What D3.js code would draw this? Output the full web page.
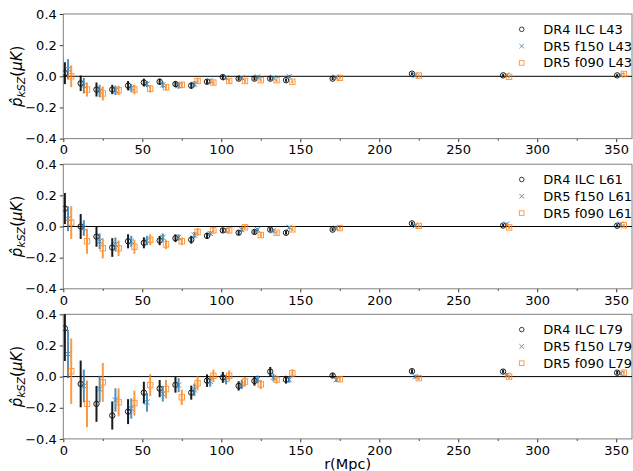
<!DOCTYPE html>
<meta charset="utf-8">
<style>
body { margin: 0; background: #fff; }
text { font-family: "DejaVu Sans", sans-serif; }
</style>
<body>
<script src="https://d3js.org/d3.v7.min.js"></script>
<script>

// bin centres for each data set (small horizontal offsets between data sets)
const rIlc  = [1, 11, 21, 31, 41, 51, 61, 71, 81, 91, 101, 111, 121, 131, 141, 170.5, 220.7, 278.4, 350.6];
const rF150 = [3, 13, 23, 33, 43, 53, 63, 73, 83, 93, 103, 113, 123, 133, 143, 172.8, 222.8, 280.6, 352.8];
const rF090 = [5, 15, 25, 35, 45, 55, 65, 75, 85, 95, 105, 115, 125, 135, 145, 175, 225, 282.2, 354.8];

// L43
const ilcL43     = [0.02, -0.045, -0.085, -0.085, -0.06, -0.04, -0.035, -0.05, -0.06, -0.035, -0.005, -0.015, -0.015, -0.015, -0.025, -0.015, 0.017, 0.006, 0.006];
const ilcL43Err  = [0.07, 0.05, 0.045, 0.03, 0.03, 0.025, 0.02, 0.02, 0.02, 0.015, 0.015, 0.012, 0.012, 0.012, 0.01, 0.01, 0.008, 0.008, 0.008];
const f150L43    = [0.045, -0.06, -0.095, -0.09, -0.075, -0.05, -0.055, -0.06, -0.05, -0.03, -0.01, -0.01, -0.005, -0.01, -0.002, -0.008, 0.005, 0.008, 0.008];
const f150L43Err = [0.065, 0.05, 0.04, 0.03, 0.025, 0.02, 0.02, 0.02, 0.02, 0.015, 0.012, 0.012, 0.012, 0.01, 0.01, 0.008, 0.008, 0.008, 0.008];
const f090L43    = [0.0, -0.085, -0.11, -0.09, -0.085, -0.08, -0.07, -0.055, -0.03, -0.04, -0.03, -0.03, -0.025, -0.025, -0.035, -0.01, 0.005, -0.003, 0.015];
const f090L43Err = [0.07, 0.045, 0.045, 0.03, 0.03, 0.025, 0.02, 0.02, 0.02, 0.015, 0.015, 0.012, 0.012, 0.012, 0.01, 0.01, 0.008, 0.008, 0.008];

// L61
const ilcL61     = [0.115, 0.0, -0.065, -0.135, -0.095, -0.105, -0.09, -0.075, -0.085, -0.06, -0.025, -0.04, -0.035, -0.02, -0.04, -0.02, 0.02, 0.006, 0.005];
const ilcL61Err  = [0.1, 0.08, 0.065, 0.06, 0.045, 0.035, 0.03, 0.025, 0.025, 0.02, 0.015, 0.015, 0.015, 0.012, 0.012, 0.01, 0.01, 0.01, 0.01];
const f150L61    = [0.05, -0.01, -0.095, -0.115, -0.095, -0.09, -0.07, -0.07, -0.055, -0.045, -0.025, -0.02, -0.02, -0.028, -0.006, -0.01, 0.005, 0.015, 0.015];
const f150L61Err = [0.08, 0.05, 0.05, 0.045, 0.035, 0.03, 0.025, 0.02, 0.02, 0.015, 0.015, 0.015, 0.012, 0.012, 0.01, 0.01, 0.01, 0.01, 0.01];
const f090L61    = [0.025, -0.095, -0.14, -0.14, -0.13, -0.085, -0.115, -0.095, -0.035, -0.025, -0.025, -0.005, -0.055, -0.04, -0.018, -0.01, 0.004, -0.006, 0.008];
const f090L61Err = [0.105, 0.08, 0.065, 0.05, 0.045, 0.035, 0.03, 0.025, 0.025, 0.02, 0.015, 0.015, 0.015, 0.012, 0.012, 0.01, 0.01, 0.01, 0.01];

// L79
const ilcL79     = [0.31, -0.047, -0.175, -0.25, -0.225, -0.103, -0.077, -0.053, -0.103, -0.026, -0.005, -0.06, -0.028, 0.032, -0.02, 0.007, 0.035, 0.032, 0.025];
const ilcL79Err  = [0.21, 0.15, 0.115, 0.09, 0.08, 0.07, 0.055, 0.05, 0.045, 0.04, 0.035, 0.03, 0.03, 0.03, 0.025, 0.015, 0.012, 0.012, 0.012];
const f150L79    = [0.145, -0.06, -0.08, -0.15, -0.205, -0.165, -0.11, -0.055, -0.085, -0.03, -0.02, -0.05, -0.018, -0.005, -0.02, -0.02, 0.0, 0.01, 0.02];
const f150L79Err = [0.155, 0.105, 0.085, 0.075, 0.065, 0.06, 0.05, 0.045, 0.04, 0.035, 0.03, 0.03, 0.025, 0.025, 0.02, 0.015, 0.012, 0.012, 0.01];
const f090L79    = [0.035, -0.175, -0.037, -0.165, -0.17, -0.055, -0.08, -0.133, -0.043, 0.005, 0.005, -0.032, -0.05, -0.02, 0.022, -0.016, -0.01, 0.0, 0.025];
const f090L79Err = [0.21, 0.15, 0.125, 0.09, 0.08, 0.07, 0.06, 0.05, 0.045, 0.04, 0.035, 0.03, 0.03, 0.025, 0.025, 0.015, 0.012, 0.012, 0.012];

const panelNames = ["L43", "L61", "L79"];
const seriesNames = ["DR4 ILC", "DR5 f150", "DR5 f090"];
const xTicks = [0, 50, 100, 150, 200, 250, 300, 350];
const yTicks = [-0.4, -0.2, 0.0, 0.2, 0.4];

const panels = [
  [[rIlc, ilcL43, ilcL43Err], [rF150, f150L43, f150L43Err], [rF090, f090L43, f090L43Err]],
  [[rIlc, ilcL61, ilcL61Err], [rF150, f150L61, f150L61Err], [rF090, f090L61, f090L61Err]],
  [[rIlc, ilcL79, ilcL79Err], [rF150, f150L79, f150L79Err], [rF090, f090L79, f090L79Err]]
];

const colors = ["#000000", "#1f77b4", "#ff7f0e"];
const markers = ["circle", "cross", "square"];

const width = 633, height = 471;
const left = 63.3, plotW = 568.7;
const tops = [14, 164.2, 314.3];
const plotH = 124.6;

const svg = d3.select("body").append("svg")
    .attr("width", width)
    .attr("height", height);

const x = d3.scaleLinear().domain([0, 360]).range([0, plotW]);
const y = d3.scaleLinear().domain([-0.4, 0.4]).range([plotH, 0]);
const fmt = d => d3.format(".1f")(d).replace("-", "\u2212");

function marker(g, type, cx, cy, color, s) {
  if (type === "circle") {
    g.append("circle").attr("cx", cx).attr("cy", cy).attr("r", s)
      .attr("fill", "none").attr("stroke", color).attr("stroke-width", 1);
  } else if (type === "square") {
    g.append("rect").attr("x", cx - s).attr("y", cy - s)
      .attr("width", 2 * s).attr("height", 2 * s)
      .attr("fill", "none").attr("stroke", color).attr("stroke-width", 1);
  } else {
    g.append("path")
      .attr("d", `M${cx - s},${cy - s}L${cx + s},${cy + s}M${cx - s},${cy + s}L${cx + s},${cy - s}`)
      .attr("stroke", color).attr("stroke-width", 1);
  }
}

panels.forEach((series, p) => {
  const g = svg.append("g").attr("transform", `translate(${left},${tops[p]})`);

  g.append("defs").append("clipPath").attr("id", "clip" + p)
    .append("rect").attr("width", plotW).attr("height", plotH);

  // axes
  g.append("g")
      .attr("transform", `translate(0,${plotH})`)
      .call(d3.axisBottom(x).tickValues(xTicks).tickSize(3.5).tickPadding(3));
  g.append("g")
      .attr("transform", `translate(0,${plotH})`)
      .call(d3.axisBottom(x).tickValues(d3.range(25, 360, 50)).tickSize(2).tickFormat(""))
      .call(a => a.select(".domain").remove());
  g.append("g")
      .call(d3.axisLeft(y).tickValues(yTicks).tickFormat(fmt).tickSize(3.5).tickPadding(3));

  g.selectAll(".tick text").attr("font-size", 13).attr("fill", "#000")
    .attr("font-family", "DejaVu Sans");
  g.selectAll(".tick line").attr("stroke", "#000").attr("stroke-width", 0.8);
  g.selectAll(".domain").remove();

  g.append("rect").attr("width", plotW).attr("height", plotH)
    .attr("fill", "none").attr("stroke", "#808080").attr("stroke-width", 1);

  // zero line
  g.append("line").attr("x1", 0).attr("x2", plotW)
    .attr("y1", y(0)).attr("y2", y(0))
    .attr("stroke", "#000").attr("stroke-width", 1);

  const data = g.append("g").attr("clip-path", `url(#clip${p})`);

  series.forEach(([rs, vals, errs], s) => {
    const sg = data.append("g").attr("opacity", s === 0 ? 0.9 : 0.8);
    sg.selectAll("line.err")
      .data(rs.map((r, i) => ({r, v: vals[i], e: errs[i]})))
      .join("line")
        .attr("class", "err")
        .attr("x1", d => x(d.r)).attr("x2", d => x(d.r))
        .attr("y1", d => y(d.v - d.e)).attr("y2", d => y(d.v + d.e))
        .attr("stroke", colors[s]).attr("stroke-width", 2);
    rs.forEach((r, i) => marker(sg, markers[s], x(r), y(vals[i]), colors[s], 2.7));
  });

  // legend
  const lg = g.append("g");
  seriesNames.forEach((name, s) => {
    const ly = 15.3 + s * 16.8;
    const m = lg.append("g").attr("opacity", 0.75);
    marker(m, markers[s], 458.4, ly, colors[s], 2.3);
    lg.append("text").attr("x", 480).attr("y", ly).attr("dy", "0.35em")
      .attr("font-size", 13).text(`${name} ${panelNames[p]}`);
  });

  // y label
  const yl = svg.append("text")
    .attr("transform", `translate(${22},${tops[p] + plotH / 2}) rotate(-90)`)
    .attr("text-anchor", "middle")
    .attr("font-size", 15);
  yl.append("tspan").attr("font-style", "italic").text("p\u0302");
  yl.append("tspan").attr("font-style", "italic").attr("font-size", 11).attr("dy", 3).text("kSZ");
  yl.append("tspan").attr("dy", -3).text("(");
  yl.append("tspan").attr("font-style", "italic").text("\u03bcK");
  yl.append("tspan").text(")");
});

svg.append("text")
  .attr("x", left + plotW / 2).attr("y", 469)
  .attr("text-anchor", "middle")
  .attr("font-size", 14.5)
  .text("r(Mpc)");

</script>
